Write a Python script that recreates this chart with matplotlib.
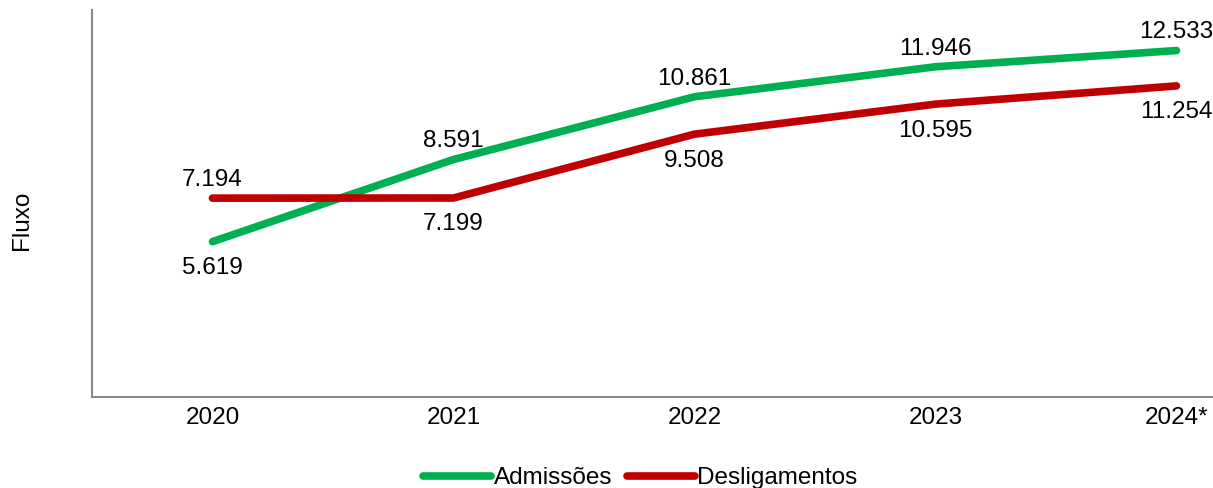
import matplotlib
matplotlib.use("Agg")
import matplotlib.pyplot as plt

plt.rcParams["font.family"] = ["Liberation Sans", "DejaVu Sans"]

years = ["2020", "2021", "2022", "2023", "2024*"]
admissoes = [5619, 8591, 10861, 11946, 12533]
desligamentos = [7194, 7199, 9508, 10595, 11254]

# label placement: +1 above the line, -1 below
adm_side = [-1, 1, 1, 1, 1]
desl_side = [1, -1, -1, -1, -1]

GREEN = "#00B050"
RED = "#C00000"


def fmt(v):
    return f"{v:,}".replace(",", ".")


fig = plt.figure(figsize=(12.13, 4.88), dpi=100)
ax = fig.add_axes([0.0758, 0.1865, 0.9934, 0.793])

x = list(range(len(years)))
ax.plot(x, admissoes, color=GREEN, lw=5.5, solid_capstyle="round", label="Admissões")
ax.plot(x, desligamentos, color=RED, lw=5.5, solid_capstyle="round", label="Desligamentos")

for xi, v, s in zip(x, admissoes, adm_side):
    ax.annotate(fmt(v), (xi, v), xytext=(0, 16 * s - 3), textcoords="offset points",
                ha="center", va="center", fontsize=17.5)
for xi, v, s in zip(x, desligamentos, desl_side):
    ax.annotate(fmt(v), (xi, v), xytext=(0, 16 * s - 3), textcoords="offset points",
                ha="center", va="center", fontsize=17.5)

ax.set_xlim(-0.5, 4.5)
ax.set_ylim(0, 14000)
ax.set_xticks(x)
ax.set_xticklabels(years, fontsize=17.5)
ax.tick_params(axis="x", length=0, pad=7)
ax.set_yticks([])
for side in ["top", "right"]:
    ax.spines[side].set_visible(False)
for side in ["left", "bottom"]:
    ax.spines[side].set_color("#888888")
    ax.spines[side].set_linewidth(1.5)

fig.text(0.018, 0.549, "Fluxo", rotation=90, ha="center", va="center", fontsize=17.5)

fig.legend(loc="center", bbox_to_anchor=(0.528, 0.02), ncol=2, frameon=False,
           fontsize=17.5, handlelength=2.8, handletextpad=0.1, columnspacing=0.6)

fig.savefig("out.png", dpi=100)
